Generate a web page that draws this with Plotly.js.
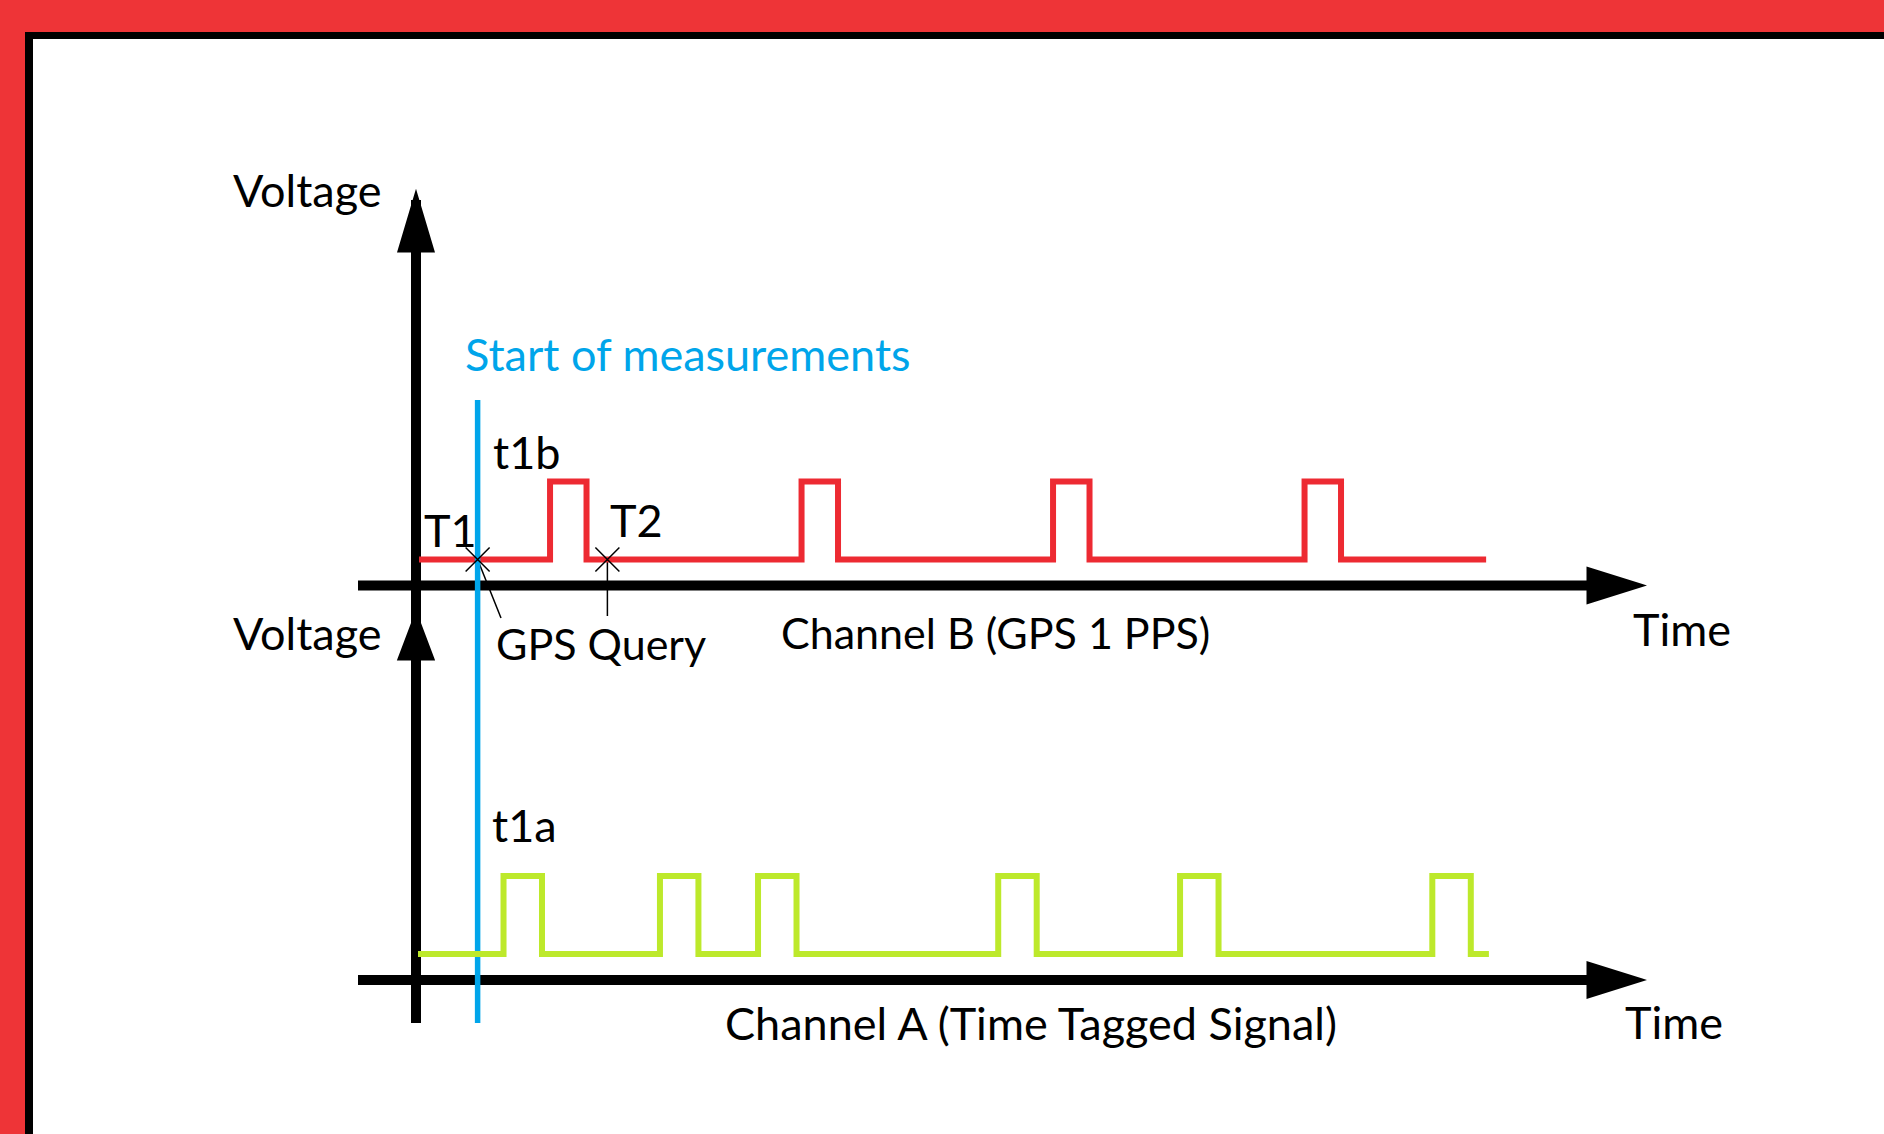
<!DOCTYPE html>
<html><head><meta charset="utf-8">
<script src="https://cdn.plot.ly/plotly-3.0.1.min.js"></script>
<style>html,body{margin:0;padding:0;background:#fff;overflow:hidden}#chart{width:1884px;height:1134px}</style>
</head><body><div id="chart"></div><script>
// ---------------- DATA (time in seconds from the vertical axis; voltage in arbitrary units) ----------------
const channelBPulseStarts = [0.533, 1.533, 2.533, 3.533];      // GPS 1 PPS rising edges
const channelBPulseWidth = 0.145;
const channelBSpan = [0.012, 4.255];
const channelAPulseStarts = [0.348, 0.970, 1.360, 2.315, 3.038, 4.041]; // time tagged signal rising edges
const channelAPulseWidth = 0.153;
const channelASpan = [0.008, 4.266];
const voltageLevels = [1, 4];               // [low, high]
const startOfMeasurementTime = 0.245;
const markerNames = ['T1', 'T2'];
const markerTimes = [0.245, 0.761];
const axisLabels = ['Voltage', 'Time'];
const channelNames = ['Channel B (GPS 1 PPS)', 'Channel A (Time Tagged Signal)'];
const eventLabels = ['Start of measurements', 't1b', 't1a', 'GPS Query'];

// ---------------- LAYOUT GEOMETRY ----------------
const W = 1884, H = 1134;
const AXIS_X_PX = 416, PX_PER_S = 251.5, PX_PER_V = 26;
const UPPER_AXIS_PX = 585.5, LOWER_AXIS_PX = 980;
const FONT = 'Lato, "Open Sans", sans-serif', FS = 45;
const RED = '#ED2A32', GREEN = '#BDE92B', BLUE = '#00A5EA', BORDER = '#EE3437';
const px = v => v / W, py = v => 1 - v / H;
const pxToTime = v => (v - AXIS_X_PX) / PX_PER_S;
const pyToV = (v, axisPx) => (axisPx - v) / PX_PER_V;

function stepSeries(starts, width, span, lv) {
  const x = [span[0]], y = [lv[0]];
  starts.forEach(s => { x.push(s, s, s + width, s + width); y.push(lv[0], lv[1], lv[1], lv[0]); });
  x.push(span[1]); y.push(lv[0]);
  return {x, y};
}
const chB = stepSeries(channelBPulseStarts, channelBPulseWidth, channelBSpan, voltageLevels);
const chA = stepSeries(channelAPulseStarts, channelAPulseWidth, channelASpan, voltageLevels);

const traces = [
  {x: chB.x, y: chB.y, xaxis: 'x', yaxis: 'y', mode: 'lines', line: {color: RED, width: 6}, hoverinfo: 'skip'},
  {x: chA.x, y: chA.y, xaxis: 'x', yaxis: 'y2', mode: 'lines', line: {color: GREEN, width: 6}, hoverinfo: 'skip'},
  {x: [startOfMeasurementTime, startOfMeasurementTime], y: [pyToV(1023, UPPER_AXIS_PX), pyToV(400, UPPER_AXIS_PX)],
   xaxis: 'x', yaxis: 'y', mode: 'lines', line: {color: BLUE, width: 5.5}, hoverinfo: 'skip'},
  {x: markerTimes, y: markerTimes.map(() => voltageLevels[0]), xaxis: 'x', yaxis: 'y', mode: 'markers',
   marker: {symbol: 'x-thin', size: 24, line: {color: '#000', width: 1.5}}, hoverinfo: 'skip'}
];

const shapes = [];
// frame
shapes.push({type: 'rect', xref: 'paper', yref: 'paper', x0: 0, x1: 1, y0: py(32), y1: 1, fillcolor: BORDER, line: {width: 0}, layer: 'below'});
shapes.push({type: 'rect', xref: 'paper', yref: 'paper', x0: 0, x1: px(25), y0: 0, y1: 1, fillcolor: BORDER, line: {width: 0}, layer: 'below'});
shapes.push({type: 'rect', xref: 'paper', yref: 'paper', x0: px(25), x1: 1, y0: py(39), y1: py(32), fillcolor: '#000', line: {width: 0}, layer: 'below'});
shapes.push({type: 'rect', xref: 'paper', yref: 'paper', x0: px(25), x1: px(33), y0: 0, y1: py(32), fillcolor: '#000', line: {width: 0}, layer: 'below'});
// axes
shapes.push({type: 'line', xref: 'x', yref: 'paper', x0: 0, x1: 0, y0: py(1023), y1: py(200), line: {color: '#000', width: 10}, layer: 'below'});
shapes.push({type: 'line', xref: 'paper', yref: 'y', x0: px(358), x1: px(1600), y0: 0, y1: 0, line: {color: '#000', width: 10}, layer: 'below'});
shapes.push({type: 'line', xref: 'paper', yref: 'y2', x0: px(358), x1: px(1600), y0: 0, y1: 0, line: {color: '#000', width: 10}, layer: 'below'});
function tri(pts) {
  return {type: 'path', xref: 'paper', yref: 'paper', fillcolor: '#000', line: {color: '#000', width: 3}, layer: 'below',
    path: 'M ' + pts.map(p => px(p[0]) + ',' + py(p[1])).join(' L ') + ' Z'};
}
shapes.push(tri([[416, 194], [399, 251], [433, 251]]));
shapes.push(tri([[416, 614], [399, 659], [433, 659]]));
shapes.push(tri([[1642, UPPER_AXIS_PX], [1588, UPPER_AXIS_PX - 17], [1588, UPPER_AXIS_PX + 17]]));
shapes.push(tri([[1642, LOWER_AXIS_PX], [1588, LOWER_AXIS_PX - 17], [1588, LOWER_AXIS_PX + 17]]));
// leader lines from markers
shapes.push({type: 'line', xref: 'x', yref: 'y', x0: markerTimes[0], y0: voltageLevels[0], x1: pxToTime(501), y1: pyToV(618, UPPER_AXIS_PX), line: {color: '#000', width: 1.5}, layer: 'below'});
shapes.push({type: 'line', xref: 'x', yref: 'y', x0: markerTimes[1], y0: voltageLevels[0], x1: markerTimes[1], y1: pyToV(616, UPPER_AXIS_PX), line: {color: '#000', width: 1.5}, layer: 'below'});

function ann(text, left, baseline, color, size) {
  const fs = size || FS;
  return {text, xref: 'paper', yref: 'paper', x: px(left - 3), y: py(baseline - (0.39 * fs - 3)), xanchor: 'left', yanchor: 'middle',
    showarrow: false, font: {family: FONT, size: fs, color: color || '#000'}};
}
const annotations = [
  ann(axisLabels[0], 234, 205),
  ann(eventLabels[0], 466, 369, BLUE),
  ann(eventLabels[1], 494, 467),
  ann(markerNames[0], 425, 545),
  ann(markerNames[1], 611, 535),
  ann(eventLabels[3], 497, 657, null, 43),
  ann(channelNames[0], 782, 646, null, 43),
  ann(axisLabels[1], 1634, 644),
  ann(axisLabels[0], 234, 648),
  ann(eventLabels[2], 493, 840),
  ann(channelNames[1], 726, 1038),
  ann(axisLabels[1], 1626, 1037)
];

const layout = {
  width: W, height: H, margin: {l: 0, r: 0, t: 0, b: 0, pad: 0},
  paper_bgcolor: '#fff', plot_bgcolor: '#fff', showlegend: false,
  xaxis: {range: [pxToTime(0), pxToTime(W)], visible: false, fixedrange: true},
  yaxis: {range: [pyToV(H, UPPER_AXIS_PX), pyToV(0, UPPER_AXIS_PX)], visible: false, fixedrange: true},
  yaxis2: {range: [pyToV(H, LOWER_AXIS_PX), pyToV(0, LOWER_AXIS_PX)], visible: false, overlaying: 'y', fixedrange: true},
  shapes, annotations
};
Plotly.newPlot('chart', traces, layout, {displayModeBar: false, staticPlot: true});
</script></body></html>
